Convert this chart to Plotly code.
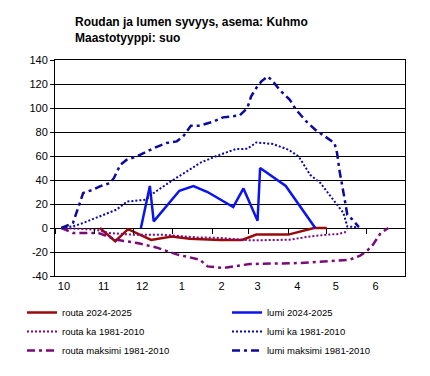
import plotly.graph_objects as go
import pandas as pd

# ---- data ----
routa_dates = ["2024-11-05", "2024-11-17", "2024-11-27", "2024-12-15", "2024-12-31", "2025-01-14",
               "2025-02-07", "2025-02-24", "2025-03-07", "2025-04-01", "2025-04-21", "2025-05-01"]
routa_vals = [0, -11, -1, -10, -7, -9, -10, -10, -5.5, -5.5, 0, 0]

lumi_dates = ["2024-12-07", "2024-12-14", "2024-12-17", "2025-01-06", "2025-01-17", "2025-01-28",
              "2025-02-17", "2025-02-25", "2025-03-08", "2025-03-10", "2025-03-30", "2025-04-22"]
lumi_vals = [0, 35, 5.5, 31, 35, 30, 17.5, 33, 6, 50, 35, 0]

routa_ka_dates = ["2024-10-06", "2024-11-02", "2024-11-12", "2024-12-01", "2024-12-24", "2025-01-06",
                  "2025-01-19", "2025-02-07", "2025-03-02", "2025-04-02", "2025-04-18", "2025-05-01",
                  "2025-05-10", "2025-05-15", "2025-05-17"]
routa_ka_vals = [0, -1.4, -4.2, -5.6, -5.6, -6.4, -7.8, -8.3, -10.3, -9.8, -7, -5.6, -5, -3.6, -1.5]

routa_max_dates = ["2024-10-06", "2024-10-15", "2024-10-31", "2024-11-05", "2024-11-18", "2024-12-04",
                   "2024-12-19", "2025-01-04", "2025-01-22", "2025-01-28", "2025-02-09", "2025-03-02",
                   "2025-04-10", "2025-05-19", "2025-05-27", "2025-06-01", "2025-06-06", "2025-06-12",
                   "2025-06-18"]
routa_max_vals = [0, -4.2, -4.2, -4.5, -9.8, -12.5, -16.2, -22, -26.4, -32, -33.3, -30,
                  -29.2, -26.4, -23, -19.5, -14, -4.2, 0]

lumi_ka_dates = ["2024-10-06", "2024-10-15", "2024-10-23", "2024-11-02", "2024-11-18", "2024-11-26",
                 "2024-12-11", "2024-12-17", "2025-01-01", "2025-01-14", "2025-01-22", "2025-02-04",
                 "2025-02-19", "2025-02-28", "2025-03-07", "2025-03-20", "2025-04-01", "2025-04-09",
                 "2025-04-18", "2025-04-26", "2025-05-06", "2025-05-14", "2025-05-17", "2025-05-26"]
lumi_ka_vals = [0, 1.4, 4.2, 8.3, 15.3, 22, 23.6, 29.2, 40, 48.6, 54.2, 60, 65.8, 66, 71.3, 70,
                65.3, 59.7, 44.4, 37.5, 23.6, 12.5, 1.3, 0.5]

lumi_max_dates = ["2024-10-06", "2024-10-15", "2024-10-23", "2024-10-31", "2024-11-05", "2024-11-13",
                  "2024-11-16", "2024-11-21", "2024-11-26", "2024-12-04", "2024-12-12", "2024-12-17",
                  "2024-12-27", "2025-01-04", "2025-01-09", "2025-01-15", "2025-01-22", "2025-01-30",
                  "2025-02-02", "2025-02-09", "2025-02-22", "2025-02-28", "2025-03-03", "2025-03-07",
                  "2025-03-11", "2025-03-16", "2025-03-20", "2025-03-25", "2025-04-02", "2025-04-07",
                  "2025-04-15", "2025-04-22", "2025-04-29", "2025-05-07", "2025-05-09", "2025-05-11",
                  "2025-05-15", "2025-05-17", "2025-05-21", "2025-05-26"]
lumi_max_vals = [0, 4.2, 29.2, 32, 34.7, 37.5, 41.7, 52.8, 56.9, 59.7, 63.8, 66.6, 70.8, 72.2, 76.3,
                 85.3, 85.3, 87.5, 88.8, 92.2, 93.8, 100, 109.7, 116.7, 122.2, 126.3, 122.2, 115.3,
                 107, 98.6, 88.8, 81.9, 76.9, 70.8, 62.5, 47.2, 23.6, 11, 7, 0.8]

month_starts = ["2024-10-01", "2024-11-01", "2024-12-01", "2025-01-01", "2025-02-01", "2025-03-01",
                "2025-04-01", "2025-05-01", "2025-06-01", "2025-07-01"]
month_labels = ["10", "11", "12", "1", "2", "3", "4", "5", "6"]
y_ticks = [-40, -20, 0, 20, 40, 60, 80, 100, 120, 140]
y_labels = ["-40", "-20", "0", "20", "40", "60", "80", "100", "120", "140"]

x_range = [month_starts[0], month_starts[-1]]
y_range = [-40, 140]
label_pos = [(pd.Timestamp(m) + pd.Timedelta(days=7)).strftime("%Y-%m-%d") for m in month_starts[:-1]]

RED = "#9A0A0A"
BLUE = "#0A14F0"
DBLUE = "#0A0AA0"
PURPLE = "#7A0A7A"
DASHDOT = "8px,4px,3px,4px"

fig = go.Figure()
fig.add_trace(go.Scatter(x=routa_dates, y=routa_vals, mode="lines", name="routa 2024-2025",
                         line=dict(color=RED, width=2.5), legend="legend"))
fig.add_trace(go.Scatter(x=routa_ka_dates, y=routa_ka_vals, mode="lines", name="routa ka 1981-2010",
                         line=dict(color=PURPLE, width=2, dash="2px,2px"), legend="legend"))
fig.add_trace(go.Scatter(x=routa_max_dates, y=routa_max_vals, mode="lines", name="routa maksimi 1981-2010",
                         line=dict(color=PURPLE, width=2.5, dash=DASHDOT), legend="legend"))
fig.add_trace(go.Scatter(x=lumi_dates, y=lumi_vals, mode="lines", name="lumi 2024-2025",
                         line=dict(color=BLUE, width=2.5), legend="legend2"))
fig.add_trace(go.Scatter(x=lumi_ka_dates, y=lumi_ka_vals, mode="lines", name="lumi ka 1981-2010",
                         line=dict(color=DBLUE, width=2, dash="2px,2px"), legend="legend2"))
fig.add_trace(go.Scatter(x=lumi_max_dates, y=lumi_max_vals, mode="lines", name="lumi maksimi 1981-2010",
                         line=dict(color=DBLUE, width=2.5, dash=DASHDOT), legend="legend2"))
# helper (empty) trace so the zero-crossing axis is drawn
fig.add_trace(go.Scatter(x=[None], y=[None], xaxis="x2", showlegend=False, hoverinfo="skip"))

FONT = "Arial, Liberation Sans, sans-serif"
legend_common = dict(orientation="v", xanchor="left", yanchor="top", traceorder="normal",
                     font=dict(family=FONT, size=9.5, color="black"), bgcolor="rgba(0,0,0,0)")

fig.update_layout(
    width=430, height=376,
    margin=dict(l=47, r=33, t=52, b=108, autoexpand=False),
    paper_bgcolor="white", plot_bgcolor="white",
    font=dict(family=FONT, size=11, color="black"),
    title=dict(text="<b>Roudan ja lumen syvyys, asema: Kuhmo<br>Maastotyyppi: suo</b>",
               x=67 / 430, xanchor="left", xref="container",
               y=0.952, yanchor="top", yref="container",
               font=dict(family=FONT, size=12, color="black")),
    xaxis=dict(type="date", range=x_range, tickvals=label_pos, ticktext=month_labels,
               ticks="", showgrid=False, zeroline=False, showline=True, mirror=True,
               linecolor="black", linewidth=1, tickfont=dict(size=11)),
    xaxis2=dict(type="date", range=x_range, overlaying="x", anchor="free",
                position=(0 - y_range[0]) / (y_range[1] - y_range[0]),
                tickvals=month_starts, ticks="outside", ticklen=5, tickcolor="black",
                showticklabels=False, showgrid=False, zeroline=False, showline=False),
    yaxis=dict(range=y_range, tickvals=y_ticks, ticktext=y_labels, showgrid=True,
               gridcolor="black", gridwidth=1, zeroline=False, showline=True, mirror=True,
               linecolor="black", linewidth=1, ticks="outside", ticklen=4, tickcolor="black",
               tickfont=dict(size=11)),
    legend=dict(x=-33 / 350, y=-22 / 216, **legend_common),
    legend2=dict(x=172 / 350, y=-22 / 216, **legend_common),
    showlegend=True,
)

fig.write_html("out.html")
